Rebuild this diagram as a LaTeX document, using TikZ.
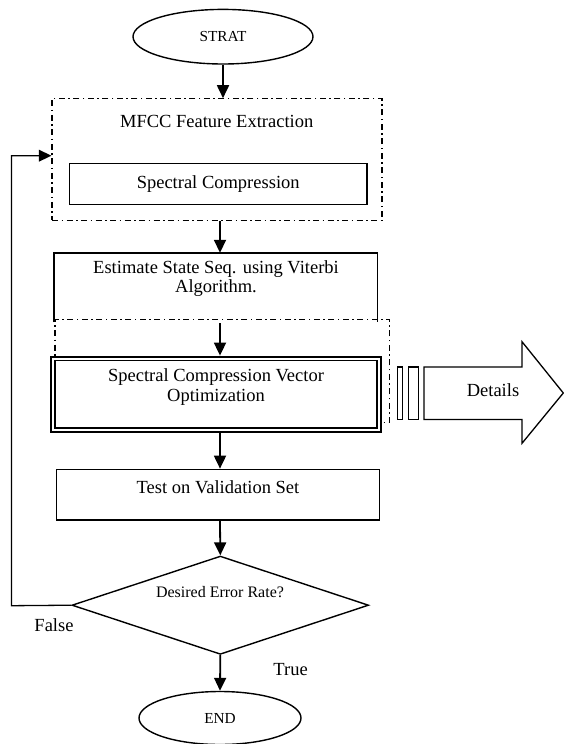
\documentclass[tikz,border=0pt]{standalone}
\usepackage{fontspec}
\setmainfont{Liberation Serif}
\usetikzlibrary{arrows.meta,shapes.geometric}
\begin{document}
\begin{tikzpicture}[x=1pt,y=-1pt,
  dd/.style={draw, line width=1.1pt, dash pattern=on 6pt off 3.5pt on 1.5pt off 3.5pt, inner sep=0pt},
  box/.style={draw, line width=1.4pt, inner sep=0pt},
  arr/.style={line width=1.8pt, -{Triangle[length=13pt,width=12pt]}},
  fbarr/.style={line width=1.3pt, -{Triangle[length=12.6pt,width=11.7pt]}},
  txt/.style={font=\fontsize{18.5}{20.5}\selectfont, inner sep=0pt, align=center},
  small/.style={font=\fontsize{15.3}{18}\selectfont},
]
\useasboundingbox (0,0) rectangle (564,744);
\coordinate (col) at (220,0);

% start
\node[draw, ellipse, line width=1.4pt, minimum width=180pt, minimum height=54.6pt, inner sep=0pt, small] (strat) at (223,36.7) {STRAT};

% MFCC group
\node[dd, minimum width=330pt, minimum height=121.3pt] (mfcc) at (217,159.4) {};
\node[txt] (mfcct) at (216.7,121) {MFCC Feature Extraction};
\node[box, fill=white, minimum width=297.6pt, minimum height=41pt, txt] (sc) at (218.2,183.8) {Spectral Compression};

% estimate (open bottom)
\node[minimum width=323pt, minimum height=69pt, inner sep=0pt] (est) at (215.5,287.5) {};
\draw[line width=1.4pt] (est.south west) -- (est.north west) -- (est.north east) -- (est.south east);
\node[txt, font=\fontsize{18.5}{19}\selectfont] (estt) at (216,279) {Estimate State Seq. using Viterbi\\Algorithm.};

% second dash-dot group
\node[dd, minimum width=334.6pt, minimum height=103pt] (dd2) at (222.3,370.7) {};

% optimisation (double box)
\node[draw, fill=white, line width=2.2pt, minimum width=329.6pt, minimum height=75pt, inner sep=0pt] (opt) at (215.8,394.2) {};
\draw[line width=1.5pt] ([xshift=5pt,yshift=-5pt]opt.north west) rectangle ([xshift=-4.5pt,yshift=5pt]opt.south east);
\node[txt] (optt) at (216,387) {Spectral Compression Vector\\Optimization};

% details arrow
\draw[line width=1.2pt] (397.5,367) rectangle (402.8,419.5);
\draw[line width=1.2pt] (408.3,367) rectangle (418.8,419.5);
\draw[line width=1.3pt] (424,367) -- (522,367) -- (522,341.7) -- (563.3,393) -- (522,443.3) -- (522,419.5) -- (424,419.5) -- cycle;
\node[txt] (details) at (493,390) {Details};

% test
\node[box, minimum width=323pt, minimum height=50.7pt] (test) at (218,494.7) {};
\node[txt] (testt) at (218,487) {Test on Validation Set};

% decision
\node[draw, diamond, aspect=3, line width=1.4pt, minimum width=296.7pt, minimum height=98.3pt, inner sep=0pt] (dia) at (220.3,605.2) {};
\node[font=\fontsize{16}{18}\selectfont, inner sep=0pt] (diat) at (220,592) {Desired Error Rate?};

% end
\node[draw, ellipse, line width=1.4pt, minimum width=162pt, minimum height=53pt, inner sep=0pt, small] (end) at (220,718) {END};

% labels
\node[txt] (false) at (54,625) {False};
\node[txt] (true) at (290.6,670) {True};

% connectors
\draw[arr] (strat.south) -- (strat.south |- mfcc.north);
\draw[arr] (mfcc.south -| col) -- (est.north -| col);
\draw[arr] ([yshift=-1pt]est.south -| col) -- (opt.north -| col);
\draw[arr] (opt.south -| col) -- (test.north -| col);
\draw[arr] (test.south -| col) -- (dia.north);
\draw[arr] (dia.south) -- (end.north);

\coordinate (fb1) at (11.5,605.7);
\coordinate (fb2) at (11.5,155.7);
\draw[fbarr] (dia.west) -- (fb1) -- (fb2) -- (fb2 -| mfcc.west);
\end{tikzpicture}
\end{document}
